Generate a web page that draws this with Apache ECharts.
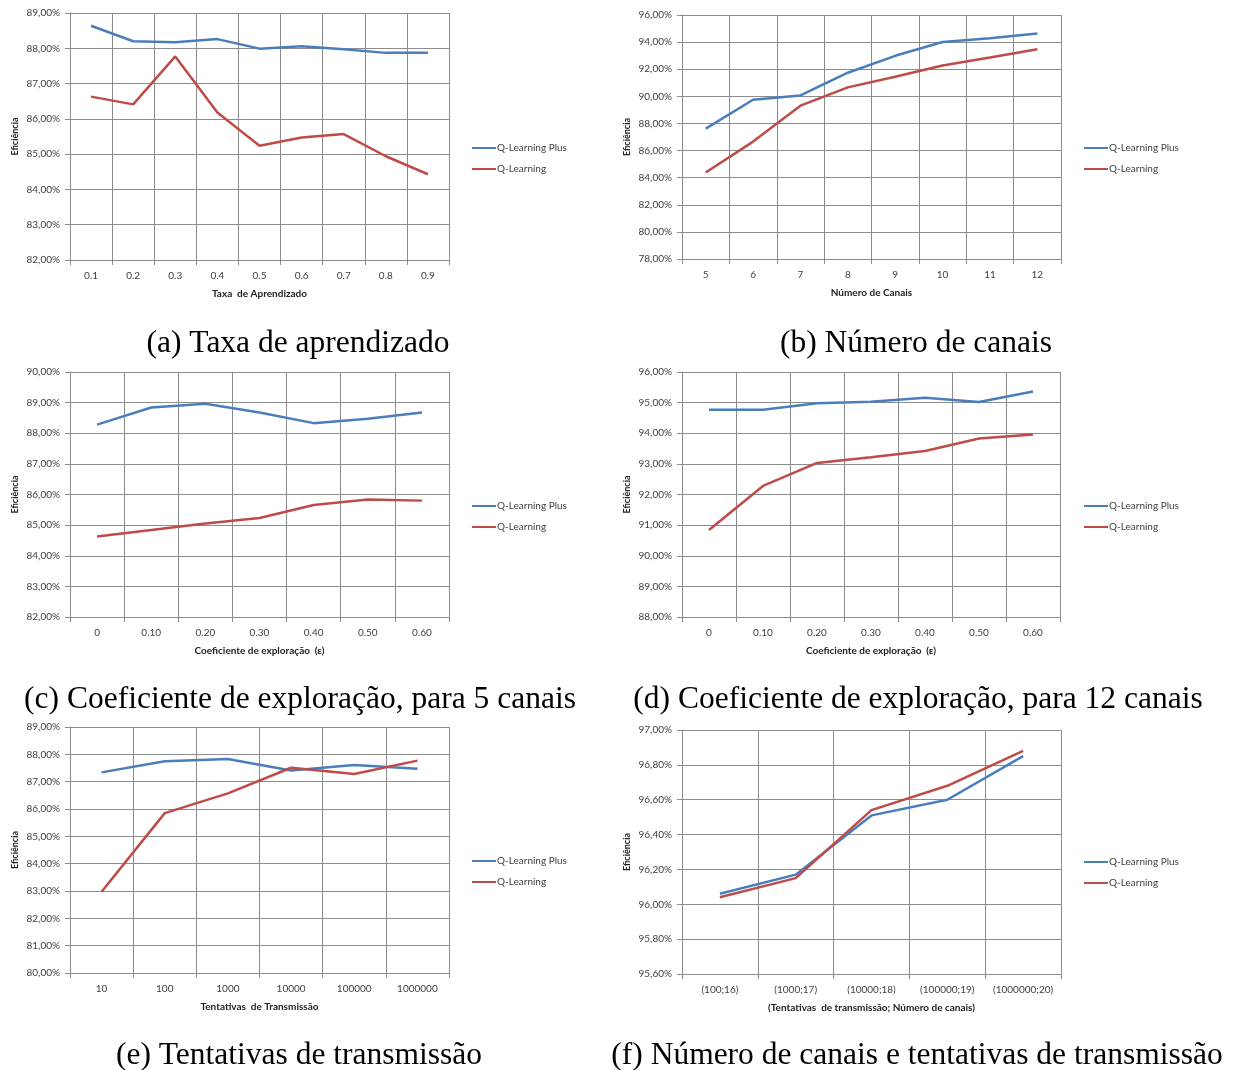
<!DOCTYPE html>
<html><head><meta charset="utf-8">
<script src="https://cdn.jsdelivr.net/npm/echarts@6/dist/echarts.min.js"></script>
<style>html,body{margin:0;padding:0;background:#fff}#c{width:1240px;height:1070px}</style>
</head><body><div id="c"></div>
<script>
// ---- data ----
const seriesNames = ['Q-Learning Plus', 'Q-Learning'];

const catsA = ['0.1','0.2','0.3','0.4','0.5','0.6','0.7','0.8','0.9'];
const plusA = [88.64,88.20,88.17,88.26,87.99,88.06,87.97,87.87,87.87];
const qlA   = [86.63,86.41,87.77,86.18,85.24,85.47,85.57,84.94,84.43];

const catsB = ['5','6','7','8','9','10','11','12'];
const plusB = [87.62,89.75,90.07,91.74,92.99,94.01,94.28,94.63];
const qlB   = [84.38,86.66,89.31,90.66,91.44,92.27,92.86,93.48];

const catsC = ['0','0.10','0.20','0.30','0.40','0.50','0.60'];
const plusC = [88.28,88.84,88.96,88.68,88.33,88.47,88.68];
const qlC   = [84.63,84.84,85.05,85.23,85.66,85.84,85.80];

const catsD = ['0','0.10','0.20','0.30','0.40','0.50','0.60'];
const plusD = [94.77,94.77,94.98,95.03,95.16,95.02,95.36];
const qlD   = [90.84,92.28,93.03,93.22,93.42,93.83,93.96];

const catsE = ['10','100','1000','10000','100000','1000000'];
const plusE = [87.34,87.75,87.83,87.41,87.61,87.47];
const qlE   = [82.97,85.85,86.57,87.51,87.28,87.77];

const catsF = ['(100;16)','(1000;17)','(10000;18)','(100000;19)','(1000000;20)'];
const plusF = [96.06,96.17,96.51,96.60,96.85];
const qlF   = [96.04,96.15,96.54,96.68,96.88];

const xTitles = ['Taxa  de Aprendizado','Número de Canais','Coeficiente de exploração  (ε)','Coeficiente de exploração  (ε)','Tentativas  de Transmissão','(Tentativas  de transmissão; Número de canais)'];
const yTitle = 'Eficiência';
const captions = ['(a) Taxa de aprendizado','(b) Número de canais','(c) Coeficiente de exploração, para 5 canais','(d) Coeficiente de exploração, para 12 canais','(e) Tentativas de transmissão','(f) Número de canais e tentativas de transmissão'];
const yRanges = [[82,89,1],[78,96,2],[82,90,1],[88,96,1],[80,89,1],[95.6,97.0,0.2]];

// ---- layout ----
const panels = [
  {cats:catsA, plus:plusA, ql:qlA, left:70,  top:13,  w:379, h:247, cap:[293,323], leg:[467,137]},
  {cats:catsB, plus:plusB, ql:qlB, left:682, top:15,  w:379, h:244, cap:[911,323], leg:[1079,137]},
  {cats:catsC, plus:plusC, ql:qlC, left:70,  top:372, w:379, h:245, cap:[295,679], leg:[467,495]},
  {cats:catsD, plus:plusD, ql:qlD, left:682, top:372, w:378, h:245, cap:[913,679], leg:[1079,495]},
  {cats:catsE, plus:plusE, ql:qlE, left:70,  top:727, w:379, h:246, cap:[294,1035], leg:[467,850]},
  {cats:catsF, plus:plusF, ql:qlF, left:682, top:730, w:379, h:244, cap:[912,1035], leg:[1079,851]}
];
const BLUE = '#4a7ebb', RED = '#be4b48', GRID = '#8c8c8c', TXT = '#404040';
const LBL_FONT = 'Lato, "Open Sans", sans-serif';

const option = {animation:false, backgroundColor:'#fff', grid:[], xAxis:[], yAxis:[], series:[], legend:[], title:[]};
panels.forEach((p,i)=>{
  option.grid.push({left:p.left, top:p.top, width:p.w, height:p.h, containLabel:false});
  option.xAxis.push({
    type:'category', gridIndex:i, data:p.cats, boundaryGap:true,
    name:xTitles[i], nameLocation:'middle', nameGap:29,
    nameTextStyle:{fontFamily:LBL_FONT, fontWeight:'bold', fontSize:10, color:'#222'},
    axisLine:{show:true, lineStyle:{color:GRID, width:1}},
    axisTick:{show:true, length:5, interval:0, lineStyle:{color:GRID}},
    axisLabel:{interval:0, margin:11, fontFamily:LBL_FONT, fontSize:10, color:TXT},
    splitLine:{show:true, interval:0, lineStyle:{color:GRID, width:1}}
  });
  const r = yRanges[i];
  option.yAxis.push({
    type:'value', gridIndex:i, min:r[0], max:r[1], interval:r[2],
    name:yTitle, nameLocation:'middle', nameRotate:90, nameGap:50,
    nameTextStyle:{fontFamily:LBL_FONT, fontWeight:'bold', fontSize:9, color:'#222'},
    axisLine:{show:true, lineStyle:{color:GRID, width:1}},
    axisTick:{show:true, length:5, lineStyle:{color:GRID}},
    axisLabel:{margin:10, fontFamily:LBL_FONT, fontSize:10, color:TXT,
      formatter:v=>v.toFixed(2).replace('.',',')+'%'},
    splitLine:{show:true, lineStyle:{color:GRID, width:1}}
  });
  option.series.push({name:seriesNames[0], type:'line', xAxisIndex:i, yAxisIndex:i, data:p.plus,
    symbol:'none', lineStyle:{color:BLUE, width:2.5}, itemStyle:{color:BLUE}});
  option.series.push({name:seriesNames[1], type:'line', xAxisIndex:i, yAxisIndex:i, data:p.ql,
    symbol:'none', lineStyle:{color:RED, width:2.5}, itemStyle:{color:RED}});
  option.legend.push({
    left:p.leg[0], top:p.leg[1], orient:'vertical', itemGap:9, itemWidth:24, itemHeight:12,
    data:seriesNames, selectedMode:false, icon:'path://M0,5 L24,5 L24,7 L0,7 Z',
    textStyle:{fontFamily:LBL_FONT, fontSize:10, color:TXT, lineHeight:12, height:12, padding:[0,0,0,-4]}
  });
  option.title.push({
    text:captions[i], left:p.cap[0], top:p.cap[1], textAlign:'center',
    textStyle:{fontFamily:'"Liberation Serif", "Times New Roman", serif', fontSize:31.5, fontWeight:'normal', color:'#000'}
  });
});
const chart = echarts.init(document.getElementById('c'), null, {renderer:'canvas'});
chart.setOption(option);
</script>
</body></html>
